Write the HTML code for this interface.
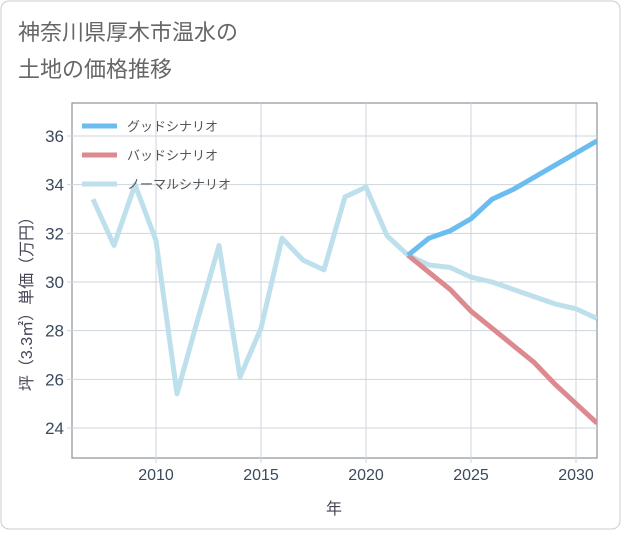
<!DOCTYPE html>
<html><head><meta charset="utf-8"><style>
body{margin:0;background:#fff;}
#wrap{position:relative;width:621px;height:530px;}
svg text{font-family:"Liberation Sans","Noto Sans CJK JP",sans-serif;}
</style></head><body>
<div id="wrap">
<svg id="chart" width="621" height="530">
<rect x="1" y="1" width="619" height="528" rx="8" fill="#fff" stroke="#ccc"/>
<text x="18" y="40" font-size="22" fill="#666">神奈川県厚木市温水の</text>
<text x="18" y="77" font-size="22" fill="#666">土地の価格推移</text>
<g id="grid"></g>
<g id="series"></g>
<g id="legend"></g>
<text x="334" y="514" font-size="16" fill="#445" text-anchor="middle">年</text>
<text transform="translate(32,300) rotate(-90)" font-size="16" fill="#445" text-anchor="middle">坪（3.3㎡）単価（万円）</text>
</svg>
</div>
<script>
const years=[2007,2008,2009,2010,2011,2012,2013,2014,2015,2016,2017,2018,2019,2020,2021,2022,2023,2024,2025,2026,2027,2028,2029,2030,2031];
const normal=[33.4,31.5,34.0,31.7,25.4,28.5,31.5,26.1,28.1,31.8,30.9,30.5,33.5,33.9,31.9,31.1,30.7,30.6,30.2,30.0,29.7,29.4,29.1,28.9,28.5];
const futureYears=[2022,2023,2024,2025,2026,2027,2028,2029,2030,2031];
const good=[31.1,31.8,32.1,32.6,33.4,33.8,34.3,34.8,35.3,35.8];
const bad=[31.1,30.4,29.7,28.8,28.1,27.4,26.7,25.8,25.0,24.2];
const xTicks=[2010,2015,2020,2025,2030];
const yTicks=[24,26,28,30,32,34,36];
const legendLabels=["グッドシナリオ","バッドシナリオ","ノーマルシナリオ"];
const colors=["#6bbdf0","#dc8a8f","#bde0ec"];
const L=72,R=597,T=103,B=458;
const x=v=>L+(v-2006)/(2031-2006)*(R-L);
const y=v=>428-(v-24)*(428-136)/12;
const NS="http://www.w3.org/2000/svg";
function mk(tag,attrs,parent){const e=document.createElementNS(NS,tag);for(const k in attrs)e.setAttribute(k,attrs[k]);parent.appendChild(e);return e;}
const grid=document.getElementById('grid');
mk('rect',{x:L,y:T,width:R-L,height:B-T,fill:'none',stroke:'#8a929a','stroke-width':1.2},grid);
xTicks.forEach(t=>{
  const l=mk('line',{x1:x(t),x2:x(t),y1:T,y2:B+5,stroke:'#ccd6dd'},grid);
  
  
  const tx=mk('text',{x:x(t),y:B+22,'font-size':16,fill:'#3a4a5c','text-anchor':'middle'},grid);
  tx.textContent=t;
  
  
});
yTicks.forEach(t=>{
  const l=mk('line',{x1:L-5,x2:R,y1:y(t),y2:y(t),stroke:'#ccd6dd'},grid);
  
  
  const tx=mk('text',{x:L-8,y:y(t)+6,'font-size':17,fill:'#3a4a5c','text-anchor':'end'},grid);
  tx.textContent=t;
  
  
});
const ser=document.getElementById('series');
const cp=mk('clipPath',{id:'clip'},ser);
mk('rect',{x:L,y:T,width:R-L,height:B-T},cp);
function line(xs,vs,c,name){
  const p=mk('polyline',{points:xs.map((t,i)=>x(t)+','+y(vs[i])).join(' '),fill:'none',stroke:c,'stroke-width':5,'stroke-linejoin':'round','clip-path':'url(#clip)'},ser);
  
  
}
line(years,normal,colors[2],'normal-scenario-line');
line(futureYears,bad,colors[1],'bad-scenario-line');
line(futureYears,good,colors[0],'good-scenario-line');
const lg=document.getElementById('legend');
legendLabels.forEach((s,i)=>{
  const yy=126+i*29;
  const l=mk('line',{x1:82,x2:117,y1:yy,y2:yy,stroke:colors[i],'stroke-width':5},lg);
  
  
  const t=mk('text',{x:127,y:yy+5,'font-size':13,fill:'#555'},lg);
  t.textContent=s;
  
  
});
</script>
</body></html>
